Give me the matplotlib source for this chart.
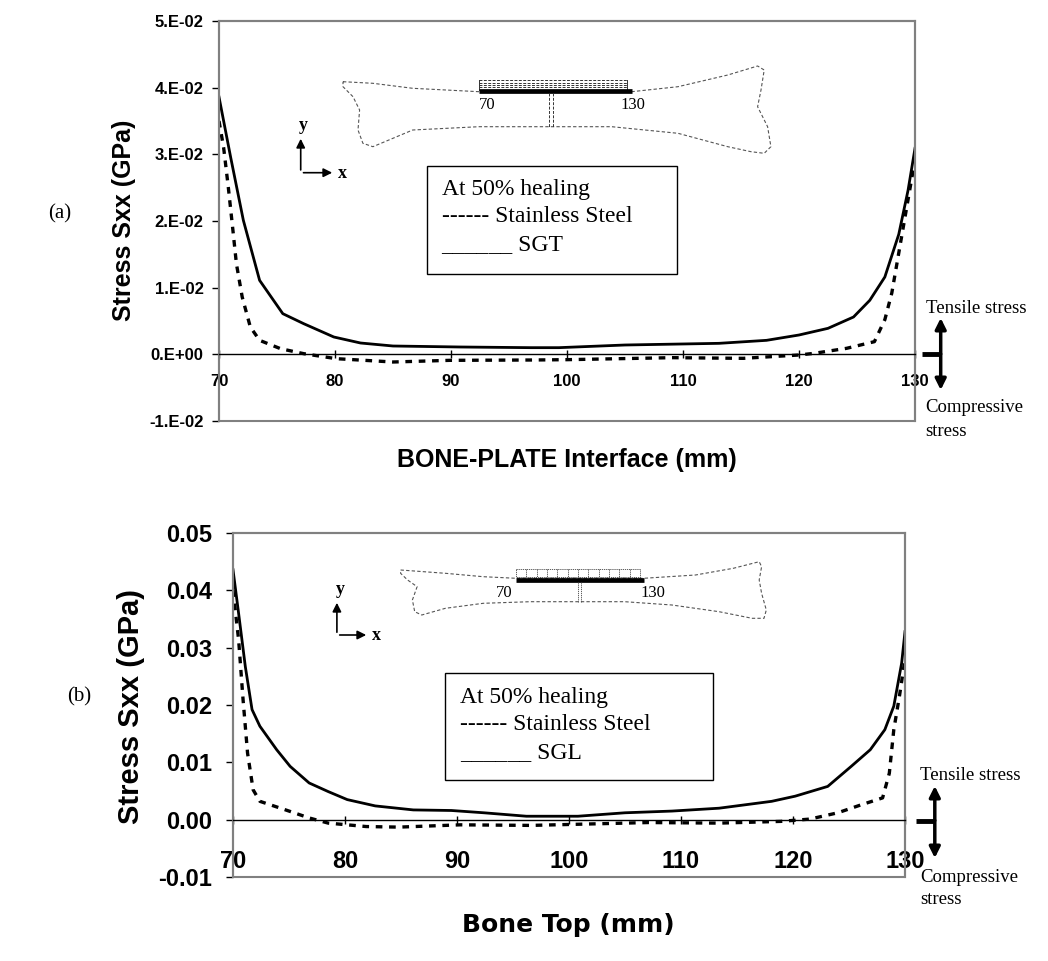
import matplotlib
matplotlib.use("Agg")
import matplotlib.pyplot as plt
from matplotlib.patches import Rectangle, FancyArrowPatch
from matplotlib.lines import Line2D
from matplotlib.ticker import FixedLocator, FuncFormatter

W, H = 1048, 961

# ---- data ----
top_x_sgt = [70, 71, 72.1, 73.5, 75.5, 77.3, 79.9, 82.2, 85, 90.8, 96.9, 99.3, 105,
             113.1, 117.2, 120, 122.5, 124.7, 126.1, 127.4, 128.6, 129.4, 130]
top_sgt = [0.0386, 0.0296, 0.0201, 0.0111, 0.0061, 0.0046, 0.0026, 0.0017, 0.00125,
           0.0011, 0.0010, 0.0010, 0.0014, 0.00165, 0.0021, 0.0029, 0.0039, 0.0056,
           0.0081, 0.0116, 0.018, 0.0246, 0.0309]
top_x_ss = [70, 70.4, 70.8, 71.2, 71.5, 72.0, 72.7, 73.5, 75.3, 77.3, 80.1, 85, 89.9,
            97, 100, 109.1, 115.2, 120, 121.3, 124.1, 126.5, 127.4, 128, 128.6,
            129.2, 129.8, 130]
top_ss = [0.035, 0.031, 0.0251, 0.0186, 0.0136, 0.0086, 0.0041, 0.0021, 0.00085,
          0.0001, -0.00065, -0.00115, -0.0009, -0.00085, -0.0008, -0.0005, -0.0006,
          -0.0001, 0.00015, 0.0009, 0.0019, 0.0052, 0.0092, 0.0152, 0.0212, 0.0272,
          0.028]

bot_x_sgl = [70, 70.5, 71.1, 71.7, 72.4, 73.9, 75.1, 76.8, 78.5, 80.2, 82.7, 86.1,
             89.5, 92.4, 96.2, 100.8, 105, 109.2, 113.4, 118.1, 120.2, 123.1, 125.2,
             126.9, 128.2, 129, 129.7, 130]
bot_sgl = [0.0436, 0.036, 0.0267, 0.0192, 0.0163, 0.0122, 0.0093, 0.0064, 0.0049,
           0.0035, 0.0024, 0.0017, 0.0016, 0.0012, 0.0006, 0.0006, 0.0012, 0.0015,
           0.002, 0.0032, 0.0041, 0.0058, 0.0093, 0.0122, 0.0157, 0.0198, 0.0273,
           0.0328]
bot_x_ss = [70, 70.5, 70.9, 71.3, 71.8, 72.4, 74.7, 76.8, 78.5, 81.9, 84.8, 90.3,
            96.6, 100.8, 107.1, 113.4, 118.9, 121.5, 124, 126.1, 128, 128.6, 129,
            129.5, 130]
bot_ss = [0.040, 0.0314, 0.0209, 0.0116, 0.0052, 0.0032, 0.0017, 0.0003, -0.0006,
          -0.0012, -0.0013, -0.0009, -0.001, -0.0008, -0.0005, -0.0006, -0.0003,
          0.0001, 0.0012, 0.0026, 0.0038, 0.0081, 0.0157, 0.0215, 0.028]

x_ticks = [70, 80, 90, 100, 110, 120, 130]
y_ticks = [-0.01, 0.0, 0.01, 0.02, 0.03, 0.04, 0.05]
top_ytick_labels = ["-1.E-02", "0.E+00", "1.E-02", "2.E-02", "3.E-02", "4.E-02", "5.E-02"]
bot_ytick_labels = ["-0.01", "0.00", "0.01", "0.02", "0.03", "0.04", "0.05"]

# bone outlines (figure pixels, from top-left)
bone_a = [(343, 81.7), (372.9, 83.3), (412.7, 88.3), (479, 91.7), (631.6, 91.7),
          (678, 86.7), (727.8, 75), (757.6, 66), (764.2, 70), (761, 90), (757.6, 106.7),
          (767.6, 126.7), (770.9, 146.7), (764.2, 153.3), (751, 151.7), (727.8, 146.7),
          (678, 133.3), (611.7, 126.7), (552, 126.7), (479, 126.7), (412.7, 130),
          (372.9, 146.7), (362.9, 143.3), (358, 130), (359.6, 110), (353, 96.7),
          (343, 86.7), (343, 81.7)]
bone_b = [(400.6, 570), (445.4, 573.3), (483.2, 576.7), (516.2, 578.3), (643.6, 578.3),
          (695.5, 575), (733.3, 568.3), (759.2, 561.7), (761.6, 566.7), (759.2, 580),
          (761.6, 593.3), (766.3, 610), (764, 618.3), (752.1, 618.3), (719.1, 611.7),
          (671.9, 605), (624.7, 601.7), (577.5, 601.7), (530.3, 601.7), (483.2, 603.3),
          (445.4, 608.3), (421.8, 615), (414.7, 611.7), (412.4, 600), (417.1, 586.7),
          (407.6, 580), (400.6, 573.3), (400.6, 570)]

fig = plt.figure(figsize=(W / 100, H / 100), dpi=100)
fig.patch.set_facecolor("white")


def fx(x):
    return x / W


def fy(y):
    return 1 - y / H


def fline(xs, ys, **kw):
    fig.add_artist(Line2D([fx(v) for v in xs], [fy(v) for v in ys], **kw))


def ftext(x, y, s, **kw):
    fig.text(fx(x), fy(y), s, **kw)


def farrow(p0, p1, **kw):
    fig.add_artist(FancyArrowPatch((fx(p0[0]), fy(p0[1])), (fx(p1[0]), fy(p1[1])),
                                   transform=fig.transFigure, color="black", **kw))


def setup_axes(rect, tick_labels, ysize, xsize, xpad, ypad):
    ax = fig.add_axes(rect)
    ax.set_xlim(70, 130)
    ax.set_ylim(-0.01, 0.05)
    for s in ["top", "right", "left"]:
        ax.spines[s].set_color("#808080")
        ax.spines[s].set_linewidth(1.5)
    ax.spines["bottom"].set_position(("data", 0))
    ax.spines["bottom"].set_color("black")
    ax.spines["bottom"].set_linewidth(1.0)
    ax.add_patch(Rectangle((0, 0), 1, 1, transform=ax.transAxes, fill=False,
                           edgecolor="#808080", lw=1.5, clip_on=False, zorder=0))
    ax.xaxis.set_major_locator(FixedLocator(x_ticks))
    ax.yaxis.set_major_locator(FixedLocator(y_ticks))
    ax.yaxis.set_major_formatter(FuncFormatter(lambda v, p: tick_labels[p]))
    ax.tick_params(axis="x", direction="inout", length=6, width=1, pad=xpad)
    ax.tick_params(axis="y", direction="out", length=5, width=1, pad=ypad)
    for lab in ax.get_xticklabels():
        lab.set_fontsize(xsize)
        lab.set_fontweight("bold")
        lab.set_family("Liberation Sans")
    for lab in ax.get_yticklabels():
        lab.set_fontsize(ysize)
        lab.set_fontweight("bold")
        lab.set_family("Liberation Sans")
    return ax


# ---------------- (a) ----------------
ax1 = setup_axes([219 / W, 1 - 421 / H, 696 / W, 400 / H], top_ytick_labels, 12, 12, 11.5, 6)
ax1.plot(top_x_sgt, top_sgt, color="black", lw=2.0, solid_joinstyle="round")
ax1.plot(top_x_ss, top_ss, color="black", lw=2.4, linestyle=(0, (2, 2)))

# ---------------- (b) ----------------
ax2 = setup_axes([233 / W, 1 - 877 / H, 672 / W, 344 / H], bot_ytick_labels, 17, 17, 19, 10)
ax2.plot(bot_x_sgl, bot_sgl, color="black", lw=2.0, solid_joinstyle="round")
ax2.plot(bot_x_ss, bot_ss, color="black", lw=2.4, linestyle=(0, (2, 2)))

# axis titles
sans = "Liberation Sans"
ftext(124, 220, "Stress Sxx (GPa)", rotation=90, ha="center", va="center",
      fontsize=18, fontweight="bold", family=sans)
ftext(567, 460, "BONE-PLATE Interface (mm)", ha="center", va="center",
      fontsize=18, fontweight="bold", family=sans)
ftext(131, 706, "Stress Sxx (GPa)", rotation=90, ha="center", va="center",
      fontsize=21, fontweight="bold", family=sans)
ftext(568, 925, "Bone Top (mm)", ha="center", va="center",
      fontsize=18, fontweight="bold", family="DejaVu Sans")

serif = "Liberation Serif"
ftext(60, 214, "(a)", ha="center", va="center", fontsize=15, family=serif)
ftext(79, 697, "(b)", ha="center", va="center", fontsize=15, family=serif)

# legend boxes
for (x0, y0, x1, y1, name) in [(426.5, 166, 676.6, 274, "SGT"), (445.4, 673.3, 713.4, 780, "SGL")]:
    fig.add_artist(Rectangle((fx(x0), fy(y1)), fx(x1) - fx(x0), fy(y0) - fy(y1),
                             fill=False, edgecolor="black", lw=1.0))
    tx = x0 + 15
    ftext(tx, y0 + 24, "At 50% healing", ha="left", va="center", fontsize=17, family=serif)
    ftext(tx, y0 + 51, "------ Stainless Steel", ha="left", va="center", fontsize=17, family=serif)
    ftext(tx, y0 + 79, "______ " + name, ha="left", va="center", fontsize=17, family=serif)

# bone sketches
outline = dict(color="#555555", lw=0.8, linestyle=(0, (3, 2)))
fline([p[0] for p in bone_a], [p[1] for p in bone_a], **outline)
fline([p[0] for p in bone_b], [p[1] for p in bone_b], **outline)

# plate (a)
for yy in [80, 82.5, 85, 87.5]:
    fline([479, 627], [yy, yy], color="#333333", lw=0.7, linestyle=(0, (3, 1.5)))
fline([479, 479], [80, 90], color="#333333", lw=0.7)
fline([627, 627], [80, 90], color="#333333", lw=0.7)
fline([479, 632], [90.5, 90.5], color="black", lw=3.4, solid_capstyle="butt")
for xx in [548.7, 552.6]:
    fline([xx, xx], [92.5, 127], color="#333333", lw=0.7, linestyle=(0, (3, 1.5)))
ftext(487, 105, "70", ha="center", va="center", fontsize=12, family=serif)
ftext(633, 105, "130", ha="center", va="center", fontsize=12, family=serif)

# plate (b)
fline([516, 640, 640, 516, 516], [569, 569, 577, 577, 569], color="#444444", lw=0.6,
      linestyle=(0, (1.5, 1)))
for i in range(1, 12):
    xx = 516 + i * (640 - 516) / 12
    fline([xx, xx], [569, 577], color="#444444", lw=0.6, linestyle=(0, (1.5, 1)))
fline([516, 644], [579.5, 579.5], color="black", lw=3.4, solid_capstyle="butt")
for xx in [577.5, 581.4]:
    fline([xx, xx], [582, 602], color="#444444", lw=0.6, linestyle=(0, (1.5, 1)))
ftext(504, 593, "70", ha="center", va="center", fontsize=12, family=serif)
ftext(653, 593, "130", ha="center", va="center", fontsize=12, family=serif)

# little xy coordinate icons
for (ox, oy, up, right) in [(300.7, 172.7, 136, 335), (336.9, 635, 600, 369)]:
    farrow((ox, oy), (ox, up), arrowstyle="-|>", mutation_scale=13, lw=1.2)
    farrow((ox, oy), (right, oy), arrowstyle="-|>", mutation_scale=13, lw=1.2)
    ftext(ox + 3, up - 11, "y", ha="center", va="center", fontsize=13,
          fontweight="bold", family=serif)
    ftext(right + 7, oy + 1, "x", ha="center", va="center", fontsize=13,
          fontweight="bold", family=serif)

# tensile / compressive markers
for (ax_x, top_y, mid_y, bot_y, bar0, t_y, c_y, s_y) in [
        (940.7, 318, 354, 390, 921.7, 308, 408, 432),
        (934.8, 786, 820.5, 858, 916, 776, 877, 899)]:
    for end in [top_y, bot_y]:
        farrow((ax_x, mid_y), (ax_x, end), arrowstyle="-|>", mutation_scale=16,
               lw=2.5, shrinkA=0, shrinkB=0)
    fline([bar0, ax_x], [mid_y, mid_y], color="black", lw=3.5, solid_capstyle="butt")
    ftext(ax_x - 15, t_y, "Tensile stress", ha="left", va="center", fontsize=13.5, family=serif)
    ftext(ax_x - 15, c_y, "Compressive", ha="left", va="center", fontsize=13.5, family=serif)
    ftext(ax_x - 15, s_y, "stress", ha="left", va="center", fontsize=13.5, family=serif)

fig.savefig("out.png", dpi=100)
